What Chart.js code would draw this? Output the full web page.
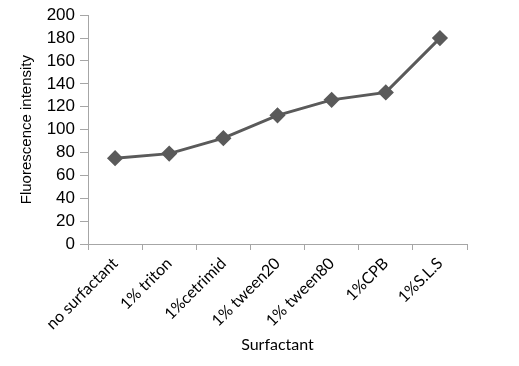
<!DOCTYPE html>
<html>
<head>
<meta charset="utf-8">
<script src="https://cdn.jsdelivr.net/npm/chart.js@4.4.0/dist/chart.umd.min.js"></script>
<style>
  html, body { margin: 0; padding: 0; background: #fff; }
  #wrap { width: 519px; height: 366px; }
</style>
</head>
<body>
<div id="wrap"><canvas id="grafico" width="519" height="366"></canvas></div>
<script>
// dados do grafico
var categorias = ['no surfactant', '1% triton', '1%cetrimid', '1% tween20', '1% tween80', '1%CPB', '1%S.L.S'];
var intensidade = [75, 79, 92.5, 112.5, 126, 132.5, 180];

var corLinha = '#5a5a5a';
var corEixo = '#a6a6a6';

var ctx = document.getElementById('grafico').getContext('2d');

var grafico = new Chart(ctx, {
  type: 'line',
  data: {
    labels: categorias,
    datasets: [{
      label: 'Fluorescence intensity',
      data: intensidade,
      borderColor: corLinha,
      backgroundColor: corLinha,
      borderWidth: 3,
      pointStyle: 'rectRot',
      pointRadius: 6,
      pointHoverRadius: 6,
      fill: false,
      tension: 0
    }]
  },
  options: {
    responsive: false,
    animation: false,
    layout: { padding: { top: 12, right: 52, left: 0, bottom: 0 } },
    plugins: {
      legend: { display: false },
      tooltip: { enabled: false }
    },
    scales: {
      x: {
        offset: true,
        grid: {
          offset: true,
          drawOnChartArea: false,
          drawTicks: true,
          tickLength: 6,
          color: corEixo
        },
        border: { color: corEixo, width: 1 },
        ticks: {
          autoSkip: false,
          maxRotation: 45,
          minRotation: 45,
          color: '#000',
          padding: 4,
          font: { family: 'Lato', size: 16 }
        },
        title: {
          display: true,
          text: 'Surfactant',
          color: '#000',
          padding: { top: 0, bottom: 12 },
          font: { family: 'Lato', size: 16 }
        },
        afterFit: function (scale) { scale.height = 122; }
      },
      y: {
        min: 0,
        max: 200,
        ticks: {
          autoSkip: false,
          stepSize: 20,
          color: '#000',
          padding: 5,
          font: { family: 'Liberation Sans', size: 17 }
        },
        grid: {
          drawOnChartArea: false,
          drawTicks: true,
          tickLength: 8,
          color: corEixo
        },
        border: { color: corEixo, width: 1 },
        title: {
          display: true,
          text: 'Fluorescence intensity',
          color: '#000',
          padding: { top: 18, bottom: 4 },
          font: { family: 'Liberation Sans', size: 15 }
        },
        afterFit: function (scale) { scale.width = 88; }
      }
    }
  }
});
</script>
</body>
</html>
